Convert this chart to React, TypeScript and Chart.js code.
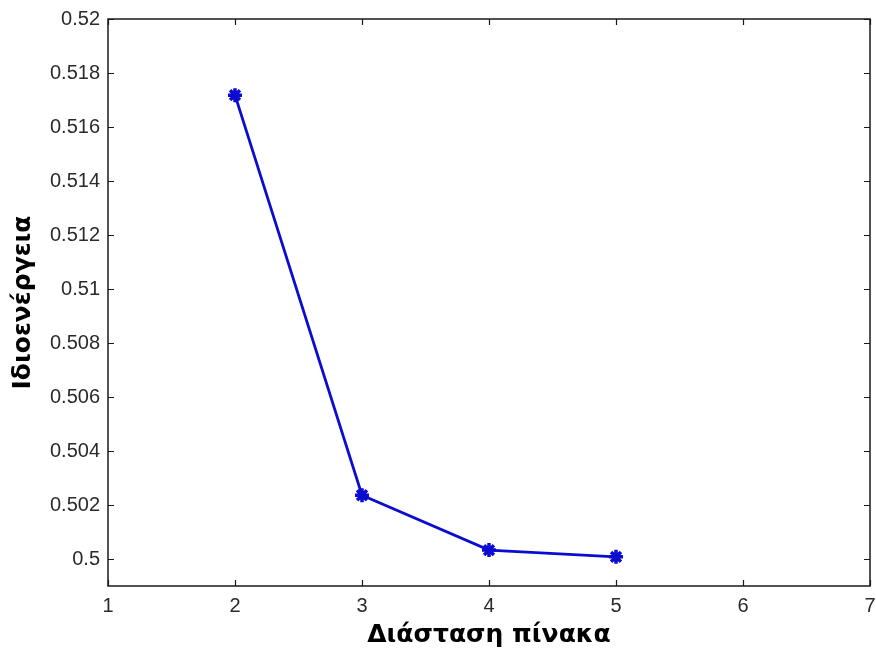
import { useEffect, useRef } from "react";
import { Chart, registerables } from "chart.js";

Chart.register(...registerables);

// Matrix dimension vs. computed eigen-energy
const matrixSizes = [2, 3, 4, 5];
const eigenEnergies = [0.51718, 0.50236, 0.50033, 0.50008];

const xTickValues = [1, 2, 3, 4, 5, 6, 7];
const yTickValues = [0.5, 0.502, 0.504, 0.506, 0.508, 0.51, 0.512, 0.514, 0.516, 0.518, 0.52];

const xLabel = "Διάσταση πίνακα";
const yLabel = "Ιδιοενέργεια";

const LINE_COLOR = "#0c0cd0";
const AXIS_COLOR = "#1a1a1a";
const TICK_TEXT = "#2a2a2a";
const RIGHT_GAP = 6;

// Stretch the plot area to a fixed right edge, ignoring the half-label reserve
const rightEdgePlugin = {
  id: "rightEdge",
  afterLayout(chart: any) {
    const xs = chart.scales.x;
    const target = chart.width - RIGHT_GAP;
    if (xs && xs.right !== target) {
      xs.right = target;
      xs.width = target - xs.left;
      chart.chartArea.right = target;
      chart.chartArea.width = target - chart.chartArea.left;
      xs.configure();
    }
  },
};

// Box around the plot area with inward-pointing ticks on all four sides
const boxTicksPlugin = {
  id: "boxTicks",
  afterDraw(chart: any) {
    const { ctx, chartArea } = chart;
    const { left, right, top, bottom } = chartArea;
    const xs = chart.scales.x;
    const ys = chart.scales.y;
    const len = 6;
    ctx.save();
    ctx.strokeStyle = AXIS_COLOR;
    ctx.lineWidth = 1.5;
    ctx.beginPath();
    ctx.rect(left, top, right - left, bottom - top);
    ctx.stroke();
    ctx.lineWidth = 1.2;
    ctx.beginPath();
    for (const v of xTickValues) {
      const px = Math.round(xs.getPixelForValue(v)) + 0.5;
      ctx.moveTo(px, bottom);
      ctx.lineTo(px, bottom - len);
      ctx.moveTo(px, top);
      ctx.lineTo(px, top + len);
    }
    for (const v of yTickValues) {
      const py = Math.round(ys.getPixelForValue(v)) + 0.5;
      ctx.moveTo(left, py);
      ctx.lineTo(left + len, py);
      ctx.moveTo(right, py);
      ctx.lineTo(right - len, py);
    }
    ctx.stroke();
    ctx.restore();
  },
};

export default function App() {
  const canvasRef = useRef<HTMLCanvasElement | null>(null);

  useEffect(() => {
    const canvas = canvasRef.current;
    if (!canvas) return;
    const tickFont = { family: "'Liberation Sans', Arial, sans-serif", size: 20 };
    const titleFont = { family: "'DejaVu Sans', Verdana, sans-serif", size: 25, weight: "bold" as const };

    const chart = new Chart(canvas, {
      type: "line",
      data: {
        datasets: [
          {
            data: matrixSizes.map((x, i) => ({ x, y: eigenEnergies[i] })),
            borderColor: LINE_COLOR,
            backgroundColor: LINE_COLOR,
            borderWidth: 2.8,
            pointStyle: "star",
            pointRadius: 7,
            pointBorderWidth: 3.5,
            pointBorderColor: LINE_COLOR,
            tension: 0,
            fill: false,
          },
        ],
      },
      options: {
        responsive: false,
        animation: false,
        layout: { padding: { left: 0, top: 19, right: RIGHT_GAP, bottom: 0 } },
        plugins: {
          legend: { display: false },
          tooltip: { enabled: false },
        },
        scales: {
          x: {
            type: "linear",
            min: 1,
            max: 7,
            afterBuildTicks: (scale: any) => {
              scale.ticks = xTickValues.map((value) => ({ value }));
            },
            afterFit: (scale: any) => {
              scale.height = 64;
              scale.paddingLeft = 0;
              scale.paddingRight = 0;
            },
            ticks: {
              font: tickFont,
              color: TICK_TEXT,
              padding: 8,
              maxRotation: 0,
              callback: (v: any) => String(v),
            },
            grid: { display: false, drawTicks: false },
            border: { display: false },
            title: {
              display: true,
              text: xLabel,
              font: titleFont,
              color: "#000",
              padding: { top: 0, bottom: 0 },
            },
          },
          y: {
            type: "linear",
            min: 0.499,
            max: 0.52,
            afterBuildTicks: (scale: any) => {
              scale.ticks = yTickValues.map((value) => ({ value }));
            },
            afterFit: (scale: any) => {
              scale.width = 108;
              scale.paddingTop = 0;
              scale.paddingBottom = 0;
            },
            ticks: {
              font: tickFont,
              color: TICK_TEXT,
              padding: 8,
              callback: (v: any) => String(Number(Number(v).toFixed(3))),
            },
            grid: { display: false, drawTicks: false },
            border: { display: false },
            title: {
              display: true,
              text: yLabel,
              font: titleFont,
              color: "#000",
              padding: { top: 8, bottom: 0 },
            },
          },
        },
      },
      plugins: [rightEdgePlugin, boxTicksPlugin],
    });

    return () => chart.destroy();
  }, []);

  return (
    <div style={{ position: "fixed", left: 0, top: 0, width: 876, height: 650, background: "#fff" }}>
      <canvas ref={canvasRef} width={876} height={650} style={{ display: "block" }} />
    </div>
  );
}
